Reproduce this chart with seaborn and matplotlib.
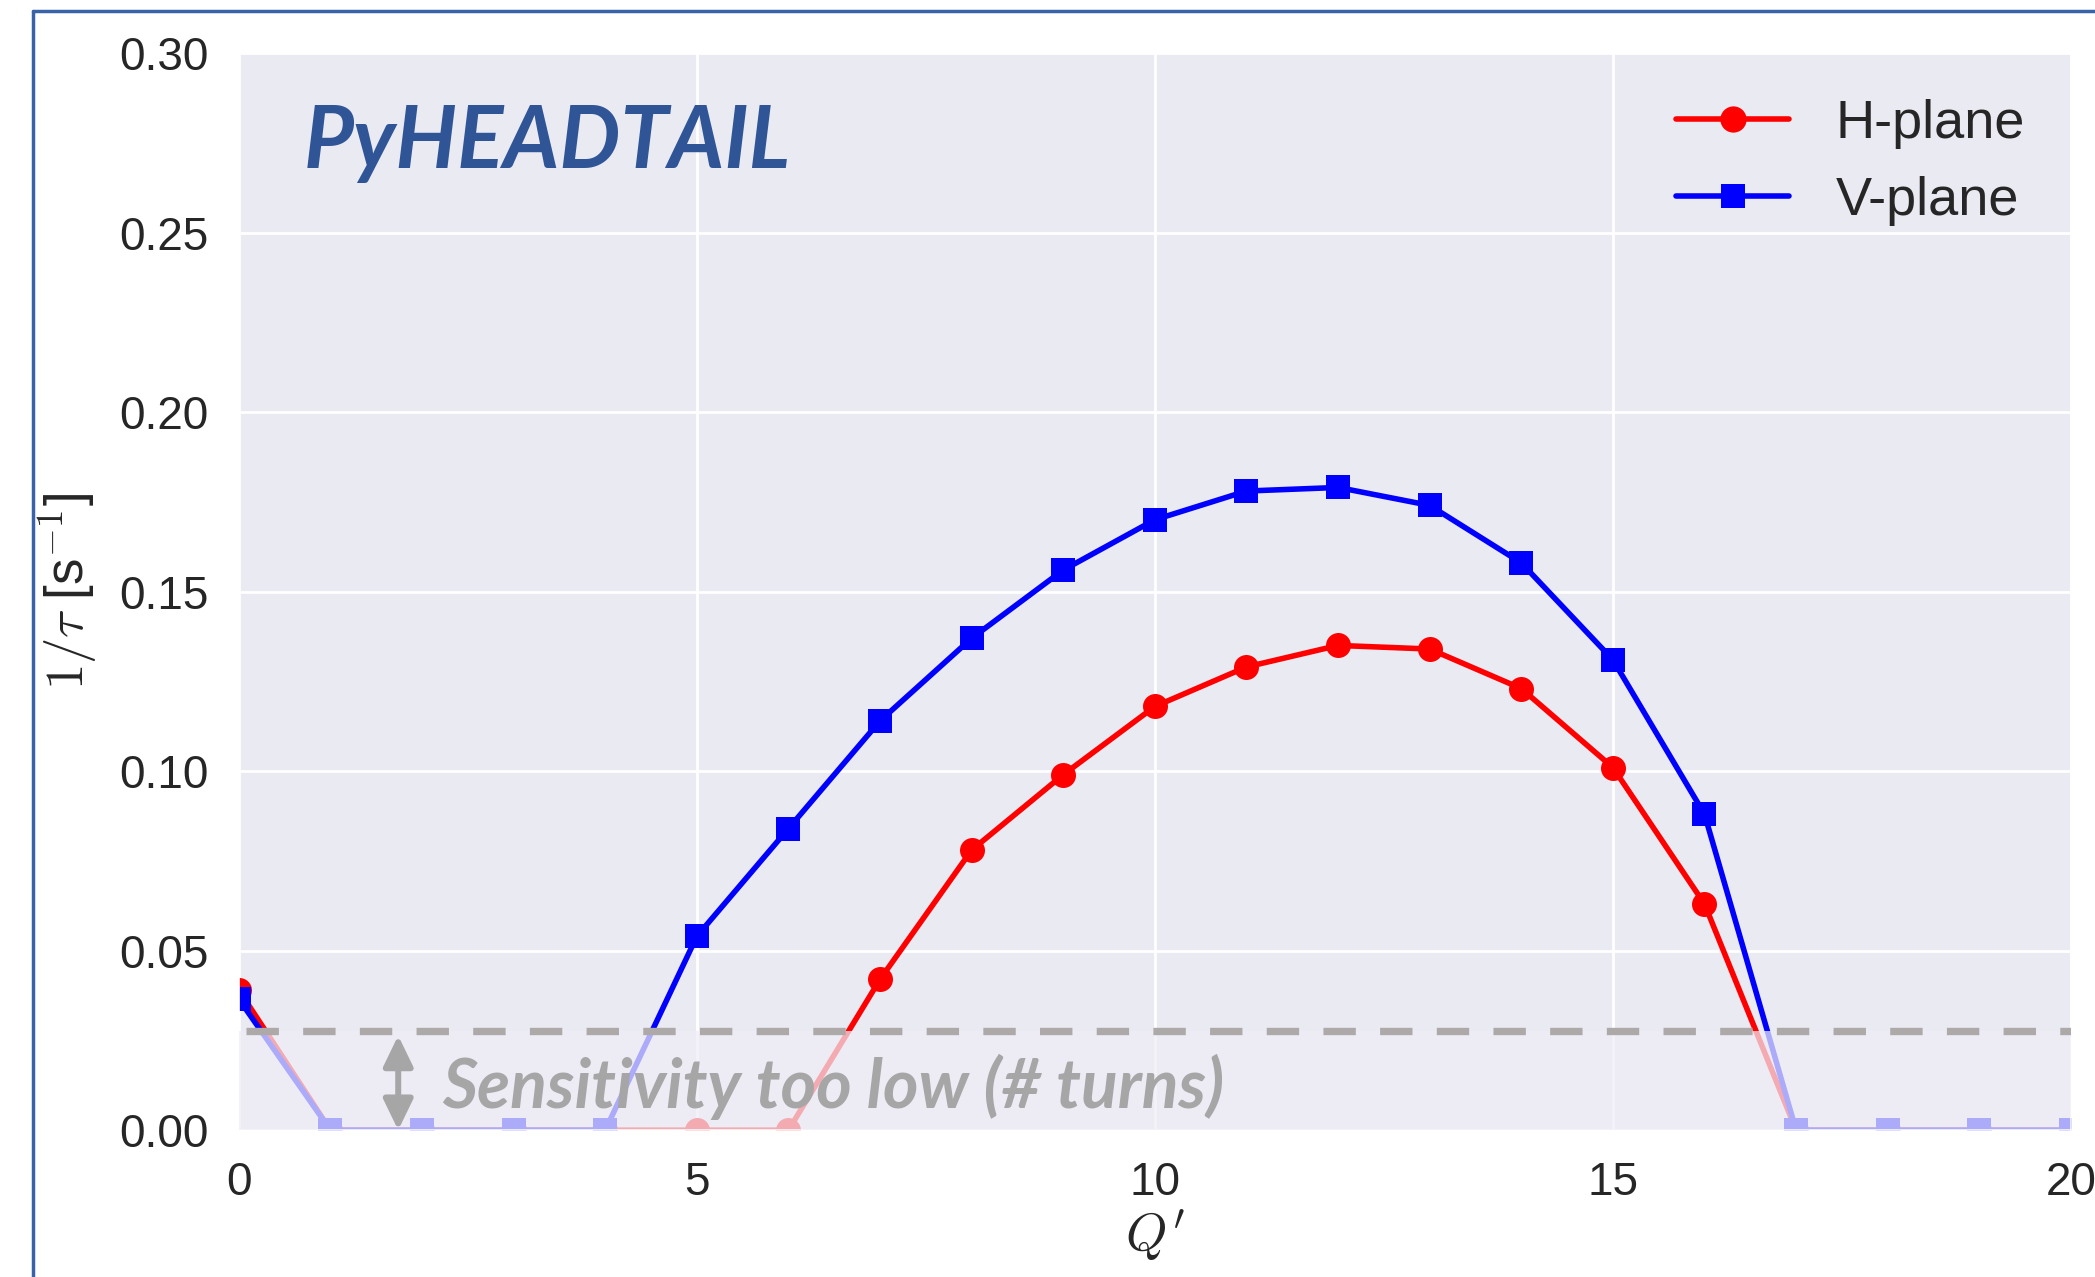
import numpy as np
import pandas as pd
import matplotlib
matplotlib.use("Agg")
import matplotlib.pyplot as plt
import seaborn as sns
from matplotlib.lines import Line2D
from matplotlib.patches import ArrowStyle

# ---- data ----
q_prime = [0, 1, 2, 3, 4, 5, 6, 7, 8, 9, 10, 11, 12, 13, 14, 15, 16, 17, 18, 19, 20]
h_plane = [0.039, 0, 0, 0, 0, 0, 0, 0.042, 0.078, 0.099, 0.118, 0.129, 0.135, 0.134,
           0.123, 0.101, 0.063, 0, 0, 0, 0]
v_plane = [0.0365, 0, 0, 0, 0, 0.054, 0.084, 0.114, 0.137, 0.156, 0.170, 0.178, 0.179,
           0.174, 0.158, 0.131, 0.088, 0, 0, 0, 0]
series_labels = ["H-plane", "V-plane"]
sensitivity_threshold = 0.0275
y_ticks = [0.00, 0.05, 0.10, 0.15, 0.20, 0.25, 0.30]
x_ticks = [0, 5, 10, 15, 20]

df = pd.DataFrame({"Q": q_prime, "H": h_plane, "V": v_plane})

sns.set_theme(style="darkgrid")
plt.rcParams["font.family"] = ["Liberation Sans", "DejaVu Sans"]
plt.rcParams["mathtext.fontset"] = "cm"

fig = plt.figure(figsize=(20.95, 12.77), dpi=100)
ax = fig.add_axes([0.114, 0.115, 0.8745, 0.8435])

sns.lineplot(data=df, x="Q", y="H", ax=ax, color="#FF0000", marker="o",
             markersize=18, markeredgewidth=0, linewidth=4, label=series_labels[0],
             zorder=2)
sns.lineplot(data=df, x="Q", y="V", ax=ax, color="#0000FF", marker="s",
             markersize=17, markeredgewidth=0, linewidth=4, label=series_labels[1],
             zorder=2.1)

# sensitivity region
ax.axhspan(0, sensitivity_threshold, color="#EFEEF7", alpha=0.72, zorder=3, lw=0)
ax.axhline(sensitivity_threshold, xmin=0.004, color="#ADA9A8", lw=5.3, dashes=(4.4, 3.3),
           zorder=4)
ax.annotate("", xy=(1.74, 0.0), xytext=(1.74, sensitivity_threshold),
            arrowprops=dict(arrowstyle=ArrowStyle("<|-|>", head_length=0.62, head_width=0.3),
                            color="#A6A6A6", lw=4.3, mutation_scale=30,
                            shrinkA=3, shrinkB=0), zorder=5)
ax.text(2.22, 0.0062, "Sensitivity too low (# turns)", color="#A6A6A6",
        fontsize=49, fontweight="bold", fontstyle="italic", family=["Lato", "DejaVu Sans"],
        va="baseline", ha="left", zorder=5)

ax.text(0.71, 0.268, "PyHEADTAIL", color="#2F5597", fontsize=62, fontweight="bold",
        fontstyle="italic", family=["Lato", "DejaVu Sans"], va="baseline", ha="left", zorder=5)

ax.set_xlim(0, 20)
ax.set_ylim(0, 0.30)
ax.set_xticks(x_ticks)
ax.set_yticks(y_ticks)
ax.set_yticklabels([f"{v:.2f}" for v in y_ticks])
ax.tick_params(axis="both", labelsize=33, pad=16)
ax.set_xlabel(r"$Q'$", fontsize=38, labelpad=2)
ax.set_ylabel(r"$1/\tau$ [s$^{-1}$]", fontsize=38, labelpad=14)
ax.grid(True, color="white", lw=2)

leg = ax.legend(loc="upper right", frameon=False, fontsize=39, handlelength=2.1,
                borderaxespad=0.35, labelspacing=0.5, handletextpad=0.85, markerscale=1.05,
                borderpad=0.5)

# blue frame of the slide
fig.add_artist(Line2D([33 / 2095, 33 / 2095], [0, 1 - 11 / 1277], transform=fig.transFigure,
                      color="#3A62A7", lw=2.5))
fig.add_artist(Line2D([33 / 2095, 1], [1 - 11 / 1277, 1 - 11 / 1277], transform=fig.transFigure,
                      color="#3A62A7", lw=2.5))

fig.savefig("out.png", dpi=100, facecolor="white")
